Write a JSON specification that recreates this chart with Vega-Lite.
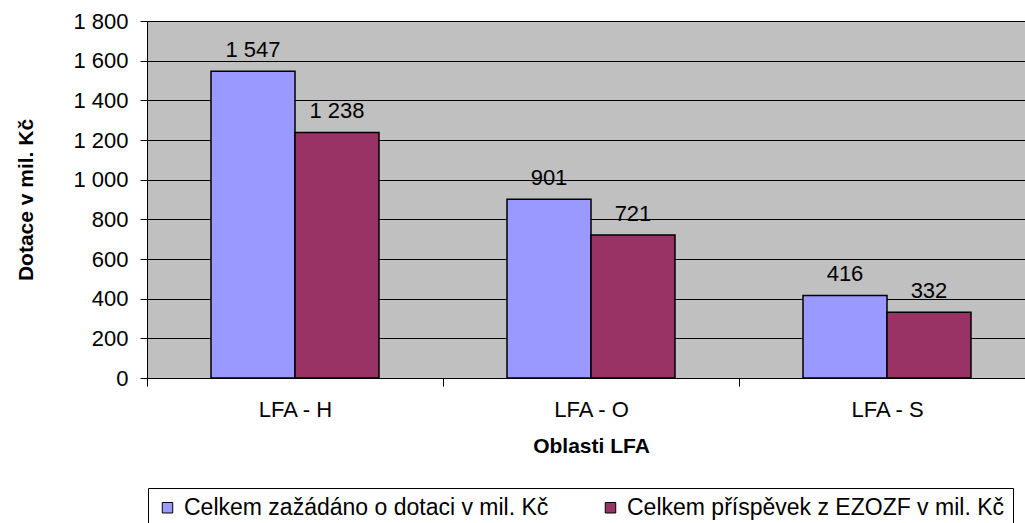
{
  "$schema": "https://vega.github.io/schema/vega-lite/v6.json",
  "width": 888,
  "height": 357,
  "autosize": {"type": "none"},
  "padding": {"left": 147, "top": 21, "right": 0, "bottom": 145},
  "background": "white",
  "config": {
    "locale": {"number": {"decimal": ",", "thousands": " ", "grouping": [3], "currency": ["", " Kč"]}},
    "font": "Liberation Sans",
    "view": {"fill": "#C0C0C0", "stroke": "#808080", "strokeWidth": 1}
  },
  "data": {
    "values": [
      {"oblast": "LFA - H", "serie": "Celkem zažádáno o dotaci v mil. Kč", "hodnota": 1547},
      {"oblast": "LFA - H", "serie": "Celkem příspěvek z EZOZF v mil. Kč", "hodnota": 1238},
      {"oblast": "LFA - O", "serie": "Celkem zažádáno o dotaci v mil. Kč", "hodnota": 901},
      {"oblast": "LFA - O", "serie": "Celkem příspěvek z EZOZF v mil. Kč", "hodnota": 721},
      {"oblast": "LFA - S", "serie": "Celkem zažádáno o dotaci v mil. Kč", "hodnota": 416},
      {"oblast": "LFA - S", "serie": "Celkem příspěvek z EZOZF v mil. Kč", "hodnota": 332}
    ]
  },
  "encoding": {
    "x": {
      "field": "oblast", "type": "nominal",
      "scale": {"paddingInner": 0, "paddingOuter": 0},
      "axis": {
        "title": "Oblasti LFA", "labelAngle": 0, "tickBand": "extent",
        "domainColor": "black", "tickColor": "black", "tickSize": 8,
        "labelFontSize": 22, "labelColor": "black", "labelPadding": 13,
        "titleFontSize": 21, "titleFontWeight": "bold", "titleColor": "black", "titlePadding": 15
      }
    },
    "xOffset": {
      "field": "serie", "type": "nominal",
      "sort": ["Celkem zažádáno o dotaci v mil. Kč", "Celkem příspěvek z EZOZF v mil. Kč"],
      "scale": {"paddingInner": 0, "paddingOuter": 0.762}
    },
    "y": {
      "field": "hodnota", "type": "quantitative",
      "scale": {"domain": [0, 1800], "nice": false},
      "axis": {
        "title": "Dotace v mil. Kč", "values": [0, 200, 400, 600, 800, 1000, 1200, 1400, 1600, 1800],
        "format": ",d", "grid": true, "gridColor": "black", "gridWidth": 1,
        "domainColor": "black", "tickColor": "black", "tickSize": 7,
        "labelFontSize": 22, "labelColor": "black", "labelPadding": 12,
        "titleFontSize": 21, "titleFontWeight": "bold", "titleColor": "black", "titlePadding": 36
      }
    }
  },
  "layer": [
    {
      "mark": {"type": "bar", "stroke": "black", "strokeWidth": 1.5},
      "encoding": {
        "color": {
          "field": "serie", "type": "nominal",
          "sort": ["Celkem zažádáno o dotaci v mil. Kč", "Celkem příspěvek z EZOZF v mil. Kč"],
          "scale": {"range": ["#9999FF", "#993366"]},
          "legend": {
            "title": null, "orient": "none", "direction": "horizontal",
            "legendX": 1, "legendY": 467,
            "strokeColor": "black", "padding": 8,
            "symbolType": "square", "symbolSize": 110, "symbolStrokeColor": "black", "symbolStrokeWidth": 1,
            "labelFontSize": 23, "labelColor": "black", "labelLimit": 0, "labelOffset": 5,
            "columnPadding": 50
          }
        }
      }
    },
    {
      "mark": {"type": "text", "baseline": "bottom", "dy": -9, "fontSize": 22, "color": "black"},
      "encoding": {
        "text": {"field": "hodnota", "type": "quantitative", "format": ",d"}
      }
    }
  ]
}
